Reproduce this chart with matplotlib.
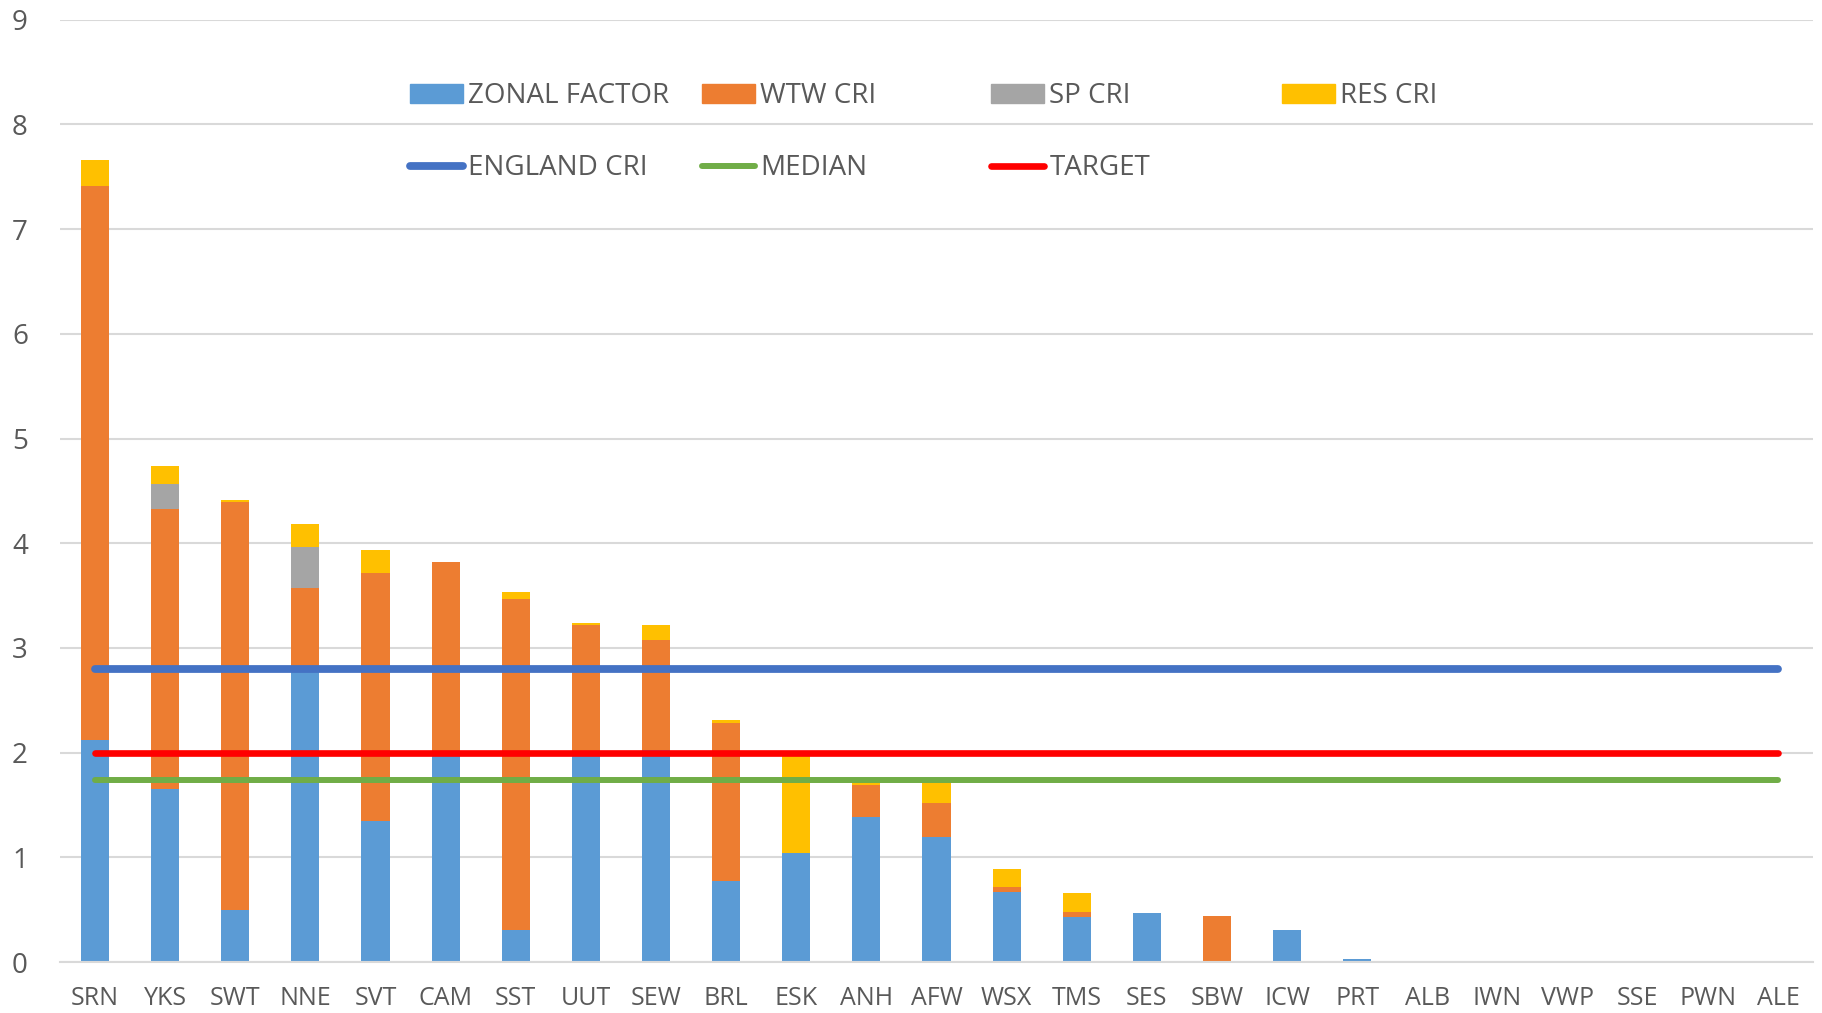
import matplotlib
matplotlib.use("Agg")
import matplotlib.pyplot as plt
from matplotlib.patches import Patch
from matplotlib.lines import Line2D
import numpy as np

plt.rcParams['font.family'] = ['Open Sans', 'DejaVu Sans']

# companies, sorted as in the sheet
companies = ["SRN", "YKS", "SWT", "NNE", "SVT", "CAM", "SST", "UUT", "SEW", "BRL",
             "ESK", "ANH", "AFW", "WSX", "TMS", "SES", "SBW", "ICW", "PRT", "ALB",
             "IWN", "VWP", "SSE", "PWN", "ALE"]

zonal_factor = [2.12, 1.65, 0.50, 2.77, 1.35, 1.98, 0.31, 1.98, 2.03, 0.77,
                1.04, 1.39, 1.19, 0.67, 0.43, 0.47, 0.0, 0.31, 0.025, 0.012,
                0, 0, 0, 0, 0]
wtw_cri = [5.29, 2.68, 3.89, 0.80, 2.37, 1.84, 3.16, 1.24, 1.05, 1.51,
           0.0, 0.30, 0.33, 0.05, 0.05, 0.0, 0.44, 0.0, 0, 0,
           0, 0, 0, 0, 0]
sp_cri = [0.0, 0.24, 0.0, 0.39, 0.0, 0.0, 0.0, 0.0, 0.0, 0.0,
          0, 0, 0, 0, 0, 0, 0, 0, 0, 0,
          0, 0, 0, 0, 0]
res_cri = [0.25, 0.17, 0.02, 0.22, 0.22, 0.0, 0.06, 0.02, 0.14, 0.03,
           0.95, 0.03, 0.23, 0.17, 0.18, 0, 0, 0, 0, 0,
           0, 0, 0, 0, 0]

england_cri = 2.8
median = 1.74
target = 2.0

col_zonal = "#5B9BD5"
col_wtw = "#ED7D31"
col_sp = "#A5A5A5"
col_res = "#FFC000"
col_eng = "#4472C4"
col_med = "#70AD47"
col_tgt = "#FF0000"
txt_col = "#595959"

fig = plt.figure(figsize=(18.22, 10.13), dpi=100)
ax = fig.add_axes([0.0329, 0.0503, 0.9622, 0.9302])

x = np.arange(len(companies))
z = np.array(zonal_factor)
w = np.array(wtw_cri)
s = np.array(sp_cri)
r = np.array(res_cri)
bw = 0.4

ax.bar(x, z, bw, color=col_zonal, zorder=2)
ax.bar(x, w, bw, bottom=z, color=col_wtw, zorder=2)
ax.bar(x, s, bw, bottom=z + w, color=col_sp, zorder=2)
ax.bar(x, r, bw, bottom=z + w + s, color=col_res, zorder=2)

lw_eng, lw_tgt, lw_med = 5.6, 4.8, 4.3
ax.plot(x, [england_cri] * len(x), color=col_eng, lw=lw_eng, solid_capstyle='round', zorder=3)
ax.plot(x, [median] * len(x), color=col_med, lw=lw_med, solid_capstyle='round', zorder=3)
ax.plot(x, [target] * len(x), color=col_tgt, lw=lw_tgt, solid_capstyle='round', zorder=4)

ax.set_xlim(-0.5, len(companies) - 0.5)
ax.set_ylim(0, 9)
ax.set_yticks(range(0, 10))
ax.set_xticks(x)
ax.set_xticklabels(companies)
ax.yaxis.grid(True, color="#D9D9D9", lw=1.5, zorder=0)
ax.set_axisbelow(True)
for sp in ["top", "right", "left"]:
    ax.spines[sp].set_visible(False)
ax.spines["bottom"].set_color("#D9D9D9")
ax.spines["bottom"].set_linewidth(1.5)
ax.tick_params(axis='y', length=0, pad=23, labelsize=20, labelcolor=txt_col)
ax.tick_params(axis='x', length=0, pad=17, labelsize=18, labelcolor=txt_col)

# legend laid out like excel: 4 equal columns, 2 rows
cols = [
    [(Patch(color=col_zonal), "ZONAL FACTOR"), (Line2D([], [], color=col_eng, lw=lw_eng, solid_capstyle='round'), "ENGLAND CRI")],
    [(Patch(color=col_wtw), "WTW CRI"), (Line2D([], [], color=col_med, lw=lw_med, solid_capstyle='round'), "MEDIAN")],
    [(Patch(color=col_sp), "SP CRI"), (Line2D([], [], color=col_tgt, lw=lw_tgt, solid_capstyle='round'), "TARGET")],
    [(Patch(color=col_res), "RES CRI")],
]
col_x = [410, 702, 991, 1282]
for i, c in enumerate(cols):
    leg = fig.legend([h for h, _ in c], [l for _, l in c], loc='upper left',
                     bbox_to_anchor=(col_x[i] / 1822, 1 - 82 / 1013),
                     bbox_transform=fig.transFigure, frameon=False,
                     fontsize=20, handlelength=1.9, handletextpad=0.2,
                     labelspacing=1.6, borderpad=0, borderaxespad=0,
                     labelcolor=txt_col)

fig.savefig("out.png", dpi=100)
